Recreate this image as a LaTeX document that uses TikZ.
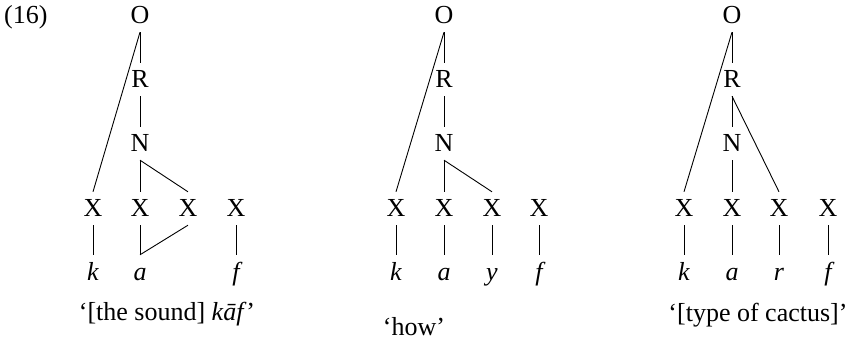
\documentclass[tikz,border=0pt]{standalone}
\usepackage{fontspec}
\setmainfont{Liberation Serif}
\begin{document}
\begin{tikzpicture}[x=1pt,y=1pt,
  el/.style={font=\fontsize{26}{30}\selectfont, inner xsep=0pt, inner ysep=8pt,
             text height=17pt, text depth=0pt, anchor=base},
  sg/.style={el, font=\fontsize{26}{30}\selectfont\itshape},
  gloss/.style={font=\fontsize{26}{30}\selectfont, inner sep=0pt, anchor=base},
  ln/.style={line width=0.9pt}]
\useasboundingbox (0,0) rectangle (852,-339);
\node[gloss, anchor=base west] (num) at (4,-24) {(16)};
% ---------- tree 1 ----------
\node[el] (O1) at (140,-24) {O};
\node[el] (R1) at (140,-88) {R};
\node[el] (N1) at (140,-152) {N};
\node[el] (A1) at (93,-217) {X};
\node[el] (B1) at (140,-217) {X};
\node[el] (C1) at (188,-217) {X};
\node[el] (D1) at (236,-217) {X};
\node[sg] (a1) at (93,-280) {k};
\node[sg] (b1) at (140,-280) {a};
\node[sg] (d1) at (236,-280) {f};
\node[gloss] (g1) at (167,-320) {‘[the sound] \textit{kāf}’};
\draw[ln] (O1.south) -- (R1.north);
\draw[ln] (O1.south) -- (A1.north);
\draw[ln] (R1.south) -- (N1.north);
\draw[ln] (N1.south) -- (B1.north);
\draw[ln] (N1.south) -- (C1.north);
\draw[ln] (A1.south) -- (a1.north);
\draw[ln] (B1.south) -- (b1.north);
\draw[ln] (C1.south) -- (b1.north);
\draw[ln] (D1.south) -- (d1.north);
% ---------- tree 2 ----------
\node[el] (O2) at (444,-24) {O};
\node[el] (R2) at (444,-88) {R};
\node[el] (N2) at (444,-152) {N};
\node[el] (A2) at (396,-217) {X};
\node[el] (B2) at (444,-217) {X};
\node[el] (C2) at (492,-217) {X};
\node[el] (D2) at (539,-217) {X};
\node[sg] (a2) at (396,-280) {k};
\node[sg] (b2) at (444,-280) {a};
\node[sg] (c2) at (492,-280) {y};
\node[sg] (d2) at (539,-280) {f};
\node[gloss] (g2) at (414,-335) {‘how’};
\draw[ln] (O2.south) -- (R2.north);
\draw[ln] (O2.south) -- (A2.north);
\draw[ln] (R2.south) -- (N2.north);
\draw[ln] (N2.south) -- (B2.north);
\draw[ln] (N2.south) -- (C2.north);
\draw[ln] (A2.south) -- (a2.north);
\draw[ln] (B2.south) -- (b2.north);
\draw[ln] (C2.south) -- (c2.north);
\draw[ln] (D2.south) -- (d2.north);
% ---------- tree 3 ----------
\node[el] (O3) at (732,-24) {O};
\node[el] (R3) at (732,-88) {R};
\node[el] (N3) at (732,-152) {N};
\node[el] (A3) at (684,-217) {X};
\node[el] (B3) at (732,-217) {X};
\node[el] (C3) at (779,-217) {X};
\node[el] (D3) at (828,-217) {X};
\node[sg] (a3) at (684,-280) {k};
\node[sg] (b3) at (732,-280) {a};
\node[sg] (c3) at (779,-280) {r};
\node[sg] (d3) at (828,-280) {f};
\node[gloss] (g3) at (758,-322) {‘[type of cactus]’};
\draw[ln] (O3.south) -- (R3.north);
\draw[ln] (O3.south) -- (A3.north);
\draw[ln] (R3.south) -- (N3.north);
\draw[ln] (R3.south) -- (C3.north);
\draw[ln] (N3.south) -- (B3.north);
\draw[ln] (A3.south) -- (a3.north);
\draw[ln] (B3.south) -- (b3.north);
\draw[ln] (C3.south) -- (c3.north);
\draw[ln] (D3.south) -- (d3.north);
\end{tikzpicture}
\end{document}
